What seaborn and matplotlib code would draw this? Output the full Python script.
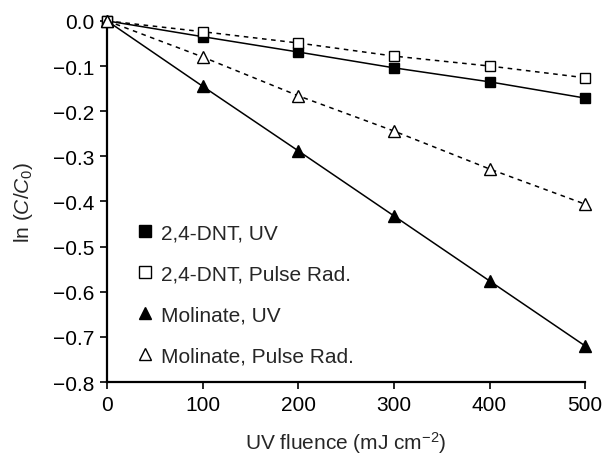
import numpy as np
import pandas as pd
import matplotlib
matplotlib.use("Agg")
import matplotlib.pyplot as plt
import seaborn as sns
from matplotlib.lines import Line2D

fluence = [0, 100, 200, 300, 400, 500]
dnt_uv = [0.0, -0.035, -0.069, -0.104, -0.135, -0.171]
dnt_pulse = [0.0, -0.024, -0.049, -0.078, -0.100, -0.126]
mol_uv = [0.0, -0.145, -0.288, -0.432, -0.576, -0.720]
mol_pulse = [0.0, -0.080, -0.166, -0.244, -0.328, -0.406]
labels = ["2,4-DNT, UV", "2,4-DNT, Pulse Rad.", "Molinate, UV", "Molinate, Pulse Rad."]

sns.set_theme(style="ticks")
plt.rcParams["font.family"] = ["Liberation Sans", "DejaVu Sans"]
plt.rcParams["mathtext.fontset"] = "custom"
plt.rcParams["mathtext.rm"] = "Liberation Sans"
plt.rcParams["mathtext.it"] = "Liberation Sans:italic"
plt.rcParams["mathtext.default"] = "regular"

FS = 15

fig = plt.figure(figsize=(6.02, 4.56), dpi=100)
ax = fig.add_axes([0.178, 0.160, 0.794, 0.792])

series = [
    (dnt_uv, "s", "black", "-", 7.5),
    (dnt_pulse, "s", "white", (0, (3, 3)), 7.5),
    (mol_uv, "^", "black", "-", 9),
    (mol_pulse, "^", "white", (0, (3, 3)), 9),
]
for vals, mk, fc, ls, ms in series:
    df = pd.DataFrame({"x": fluence, "y": vals})
    sns.lineplot(data=df, x="x", y="y", ax=ax, color="black", linewidth=1.1,
                 linestyle=ls, marker=mk, markersize=ms, markerfacecolor=fc,
                 markeredgecolor="black", markeredgewidth=1.0, clip_on=False,
                 legend=False, zorder=3)

ax.set_xlim(0, 500)
ax.set_ylim(-0.8, 0.0)
ax.set_xticks([0, 100, 200, 300, 400, 500])
ax.set_yticks(np.arange(-0.8, 0.001, 0.1))
ax.set_yticklabels(["\u22120.8", "\u22120.7", "\u22120.6", "\u22120.5", "\u22120.4",
                    "\u22120.3", "\u22120.2", "\u22120.1", "0.0"])
ax.tick_params(axis="both", direction="out", length=5, width=1.2, labelsize=FS,
               colors="black", pad=4)
for s in ["top", "right"]:
    ax.spines[s].set_visible(False)
for s in ["left", "bottom"]:
    ax.spines[s].set_linewidth(1.6)
    ax.spines[s].set_color("black")

ax.set_xlabel("UV fluence (mJ cm$^{\u22122}$)", fontsize=FS, labelpad=11)
ax.set_ylabel("ln ($\\mathit{C}$/$\\mathit{C}_0$)", fontsize=FS, labelpad=13)

handles = [
    Line2D([], [], linestyle="none", marker="s", markersize=8, markerfacecolor="black", markeredgecolor="black"),
    Line2D([], [], linestyle="none", marker="s", markersize=8, markerfacecolor="white", markeredgecolor="black"),
    Line2D([], [], linestyle="none", marker="^", markersize=9, markerfacecolor="black", markeredgecolor="black"),
    Line2D([], [], linestyle="none", marker="^", markersize=9, markerfacecolor="white", markeredgecolor="black"),
]
leg = fig.legend(handles, labels, loc="upper left", bbox_to_anchor=(0.213, 0.526),
                 frameon=False, fontsize=FS, handlelength=0.8, handletextpad=0.37,
                 labelspacing=1.05, borderaxespad=0)

fig.savefig("out.png", dpi=100)
